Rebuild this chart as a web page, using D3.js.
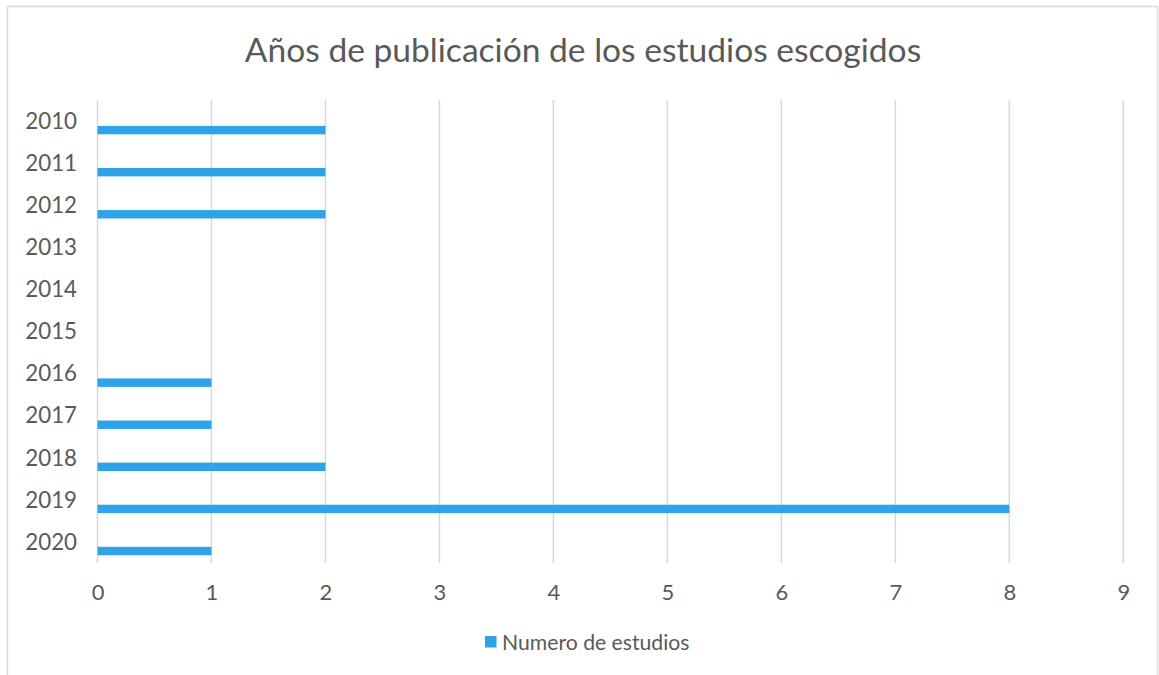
<!DOCTYPE html>
<html>
<head>
<meta charset="utf-8">
<script src="https://cdn.jsdelivr.net/npm/d3@7"></script>
<style>
  html, body { margin: 0; padding: 0; background: #fff; }
  svg { display: block; font-family: "Lato", "Noto Sans", sans-serif; }
</style>
</head>
<body>
<svg id="chart" width="1159" height="675"></svg>
<script>
// Publication years and number of studies per year
const years = ["2010", "2011", "2012", "2013", "2014", "2015", "2016", "2017", "2018", "2019", "2020"];
const studies = [2, 2, 2, 0, 0, 0, 1, 1, 2, 8, 1];
const xTicks = [0, 1, 2, 3, 4, 5, 6, 7, 8, 9];
const seriesName = "Numero de estudios";
const titleText = "Años de publicación de los estudios escogidos";

const textColor = "#595959";
const barColor = "#2EA3EA";
const gridColor = "#d9d9d9";

const svg = d3.select("#chart");

// outer frame of the chart area
svg.append("rect")
  .attr("x", 7.5).attr("y", 6.5)
  .attr("width", 1150).attr("height", 680)
  .attr("fill", "#fff")
  .attr("stroke", gridColor).attr("stroke-width", 1.5);

const plot = { left: 97.5, right: 1123.3, top: 100, bottom: 563 };

const x = d3.scaleLinear().domain([0, 9]).range([plot.left, plot.right]);
const y = d3.scaleBand().domain(years).range([plot.top, plot.bottom]).padding(0);

// vertical gridlines
svg.append("g")
  .selectAll("line")
  .data(xTicks)
  .join("line")
  .attr("x1", d => x(d)).attr("x2", d => x(d))
  .attr("y1", plot.top).attr("y2", plot.bottom)
  .attr("stroke", gridColor).attr("stroke-width", 1.5);

// bars
const bw = y.bandwidth();
svg.append("g")
  .selectAll("rect")
  .data(years.map((yr, i) => ({ yr, v: studies[i] })).filter(d => d.v > 0))
  .join("rect")
  .attr("x", x(0))
  .attr("y", d => y(d.yr) + bw * 0.615)
  .attr("width", d => x(d.v) - x(0))
  .attr("height", bw * 0.2)
  .attr("fill", barColor);

// category axis labels
const yAxis = d3.axisLeft(y).tickSize(0).tickPadding(0);
const gy = svg.append("g").attr("transform", `translate(${77},0)`).call(yAxis);
gy.select(".domain").remove();
gy.selectAll("text")
  .attr("fill", textColor)
  .attr("font-size", 22.3)
  .attr("dy", "0.35em")
  .style("font-family", "Lato, 'Noto Sans', sans-serif");
gy.selectAll(".tick").attr("transform", d => `translate(0,${y(d) + bw / 2})`);

// value axis labels
const xAxis = d3.axisBottom(x).tickValues(xTicks).tickSize(0).tickPadding(0).tickFormat(d3.format("d"));
const gx = svg.append("g").attr("transform", `translate(0,${592})`).call(xAxis);
gx.select(".domain").remove();
gx.selectAll("text")
  .attr("fill", textColor)
  .attr("font-size", 22)
  .attr("y", 0)
  .attr("dy", "0.35em")
  .style("font-family", "Lato, 'Noto Sans', sans-serif");

// title
svg.append("text")
  .attr("x", 583).attr("y", 49)
  .attr("text-anchor", "middle")
  .attr("dominant-baseline", "central")
  .attr("fill", textColor)
  .attr("font-size", 33.6)
  .text(titleText);

// legend
const legend = svg.append("g").attr("transform", "translate(485,636)");
legend.append("rect")
  .attr("width", 11.5).attr("height", 11.5)
  .attr("fill", barColor);
legend.append("text")
  .attr("x", 17).attr("y", 6)
  .attr("dominant-baseline", "central")
  .attr("fill", textColor)
  .attr("font-size", 21.2)
  .text(seriesName);
</script>
</body>
</html>
